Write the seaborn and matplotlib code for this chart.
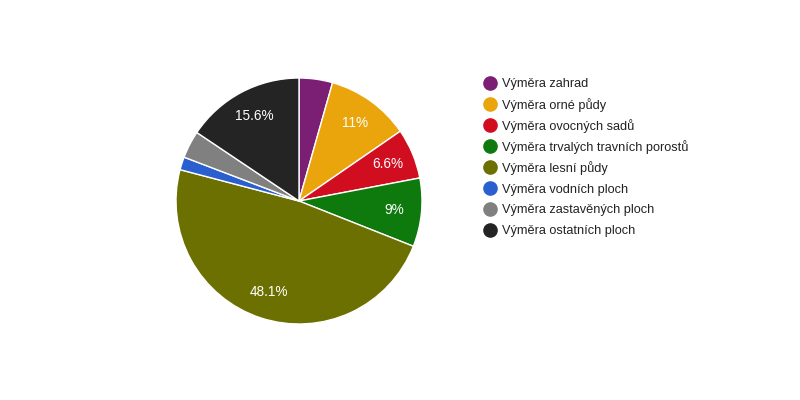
import matplotlib
matplotlib.use("Agg")
import matplotlib.pyplot as plt
from matplotlib.lines import Line2D
import seaborn as sns

# data (percent of area)
labels = [
    "Výměra zahrad",
    "Výměra orné půdy",
    "Výměra ovocných sadů",
    "Výměra trvalých travních porostů",
    "Výměra lesní půdy",
    "Výměra vodních ploch",
    "Výměra zastavěných ploch",
    "Výměra ostatních ploch",
]
values = [4.4, 11, 6.6, 9, 48.1, 1.7, 3.6, 15.6]
colors = ["#7b1f75", "#eaa50c", "#d10d20", "#0e7a0d",
          "#6b7000", "#2a5fcf", "#808080", "#242424"]

sns.set_theme(style="white")
plt.rcParams["font.family"] = ["Liberation Sans", "DejaVu Sans"]

fig = plt.figure(figsize=(8, 4), dpi=100)
ax = fig.add_axes([176 / 800, 76 / 400, 246 / 800, 246 / 400])


def fmt(p):
    if p < 5:
        return ""
    s = f"{p:.1f}".rstrip("0").rstrip(".")
    return s + "%"


wedges, texts, autotexts = ax.pie(
    values,
    colors=colors,
    startangle=90,
    counterclock=False,
    autopct=fmt,
    pctdistance=0.78,
    radius=1,
    wedgeprops=dict(edgecolor="white", linewidth=1),
    textprops=dict(color="white", fontsize=9.8),
)
ax.set_xlim(-1, 1)
ax.set_ylim(-1, 1)
ax.set_aspect("equal")
ax.axis("off")

# legend drawn row by row so the spacing stays even
for i, (lab, c) in enumerate(zip(labels, colors)):
    y = 1 - (83 + 21 * i) / 400
    fig.add_artist(Line2D([490 / 800], [y], marker="o", linestyle="",
                          markersize=9.5, markerfacecolor=c, markeredgecolor=c,
                          transform=fig.transFigure))
    fig.text(502 / 800, y, lab, fontsize=9.2, color="#222222",
             va="center_baseline", ha="left")

fig.savefig("out.png", dpi=100)
